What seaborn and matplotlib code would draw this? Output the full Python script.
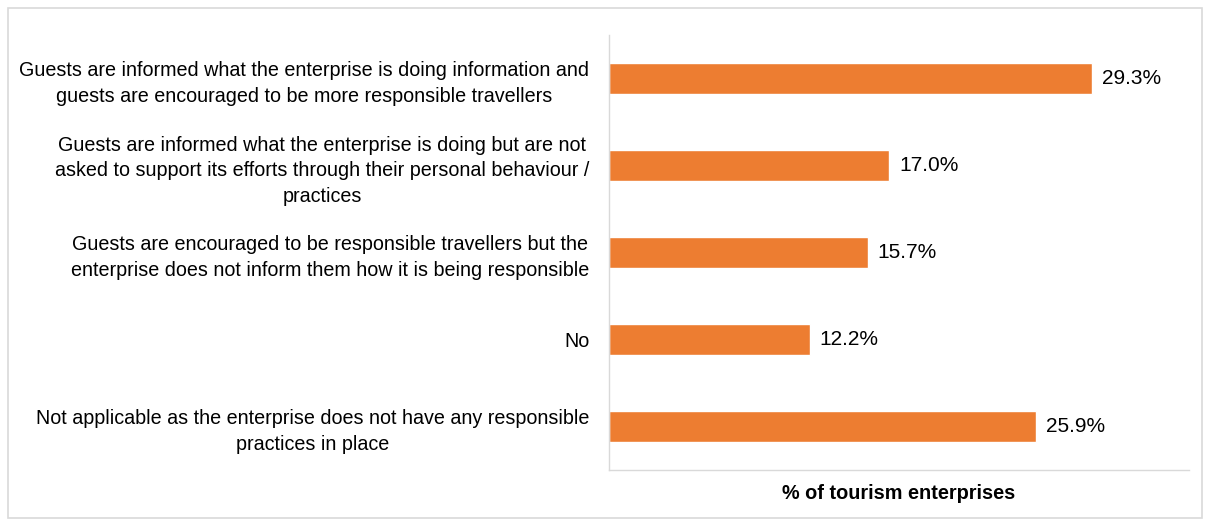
import matplotlib
matplotlib.use("Agg")
import matplotlib.pyplot as plt
import seaborn as sns
import pandas as pd
from matplotlib.patches import Rectangle

categories = [
    "Guests are informed what the enterprise is doing information and\nguests are encouraged to be more responsible travellers",
    "Guests are informed what the enterprise is doing but are not\nasked to support its efforts through their personal behaviour /\npractices",
    "Guests are encouraged to be responsible travellers but the\nenterprise does not inform them how it is being responsible",
    "No",
    "Not applicable as the enterprise does not have any responsible\npractices in place",
]
values = [29.3, 17.0, 15.7, 12.2, 25.9]
value_labels = ["29.3%", "17.0%", "15.7%", "12.2%", "25.9%"]

df = pd.DataFrame({"category": categories, "value": values})

sns.set_theme(style="white")
plt.rcParams["font.family"] = ["Liberation Sans", "DejaVu Sans"]

fig = plt.figure(figsize=(12.10, 5.26), dpi=100)
ax = fig.add_axes([0.503, 0.1065, 0.48, 0.827])

sns.barplot(data=df, x="value", y="category", orient="h", color="#ED7D31",
            saturation=1, width=0.35, ax=ax)

ax.set_xlim(0, 35.2)
ax.set_xticks([])
ax.set_ylabel("")
ax.set_xlabel("% of tourism enterprises", fontsize=14.3, fontweight="bold",
              color="#000000", labelpad=10)
ax.tick_params(axis="y", length=0, pad=14, labelsize=14.2, labelcolor="#000000")
for lbl in ax.get_yticklabels():
    lbl.set_multialignment("center")
    lbl.set_linespacing(1.45)

for i, (v, t) in enumerate(zip(values, value_labels)):
    ax.text(v + 0.6, i, t, va="center", ha="left", fontsize=15, color="#000000")

for side in ["top", "right"]:
    ax.spines[side].set_visible(False)
for side in ["left", "bottom"]:
    ax.spines[side].set_color("#D9D9D9")
    ax.spines[side].set_linewidth(1.0)

fig.patches.append(Rectangle((0.007, 0.015), 0.986, 0.97, transform=fig.transFigure,
                             fill=False, edgecolor="#D9D9D9", linewidth=1.2))

fig.savefig("out.png", dpi=100)
